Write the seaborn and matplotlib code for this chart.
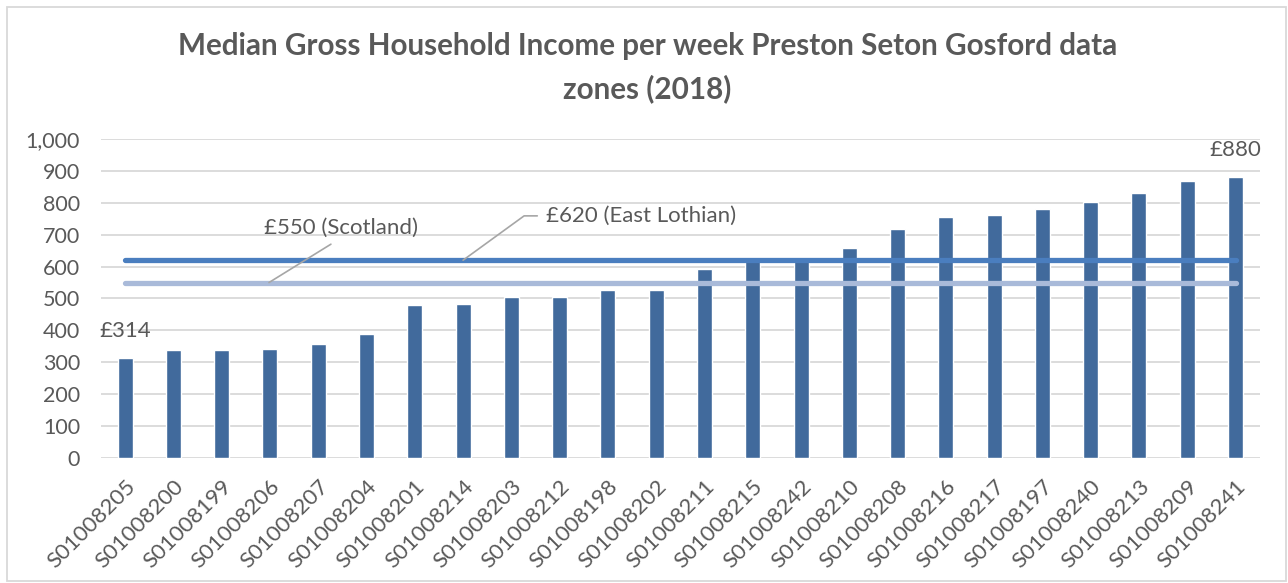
import matplotlib
matplotlib.use("Agg")
import matplotlib.pyplot as plt
import matplotlib.ticker as mticker
from matplotlib.patches import Rectangle
import seaborn as sns
import pandas as pd

zones = ["S01008205", "S01008200", "S01008199", "S01008206", "S01008207", "S01008204",
         "S01008201", "S01008214", "S01008203", "S01008212", "S01008198", "S01008202",
         "S01008211", "S01008215", "S01008242", "S01008210", "S01008208", "S01008216",
         "S01008217", "S01008197", "S01008240", "S01008213", "S01008209", "S01008241"]
income = [314, 337, 339, 342, 356, 390, 480, 482, 505, 505, 526, 528,
          593, 618, 622, 658, 719, 756, 761, 779, 803, 831, 869, 880]
scotland = 550
east_lothian = 620
title = "Median Gross Household Income per week Preston Seton Gosford data\nzones (2018)"

sns.set_theme(style="white")
plt.rcParams["font.family"] = ["Lato", "DejaVu Sans"]

GREY = "#595959"
BAR = "#416A9C"
EL = "#4A7EBF"
SC = "#A9BAD9"

df = pd.DataFrame({"zone": zones, "income": income})

fig = plt.figure(figsize=(12.88, 5.83), dpi=100)
ax = fig.add_axes([0.0784, 0.2144, 0.8996, 0.5472])

sns.barplot(data=df, x="zone", y="income", color=BAR, width=0.31, saturation=1,
            ax=ax, zorder=2)

n = len(zones)
ax.plot([0, n - 1], [east_lothian, east_lothian], color=EL, lw=3.8,
        solid_capstyle="round", zorder=3)
ax.plot([0, n - 1], [scotland, scotland], color=SC, lw=3.8,
        solid_capstyle="round", zorder=3)

ax.set_xlim(-0.5, n - 0.5)
ax.set_ylim(0, 1000)
ax.yaxis.set_major_locator(mticker.MultipleLocator(100))
ax.yaxis.set_major_formatter(mticker.FuncFormatter(lambda v, p: f"{int(v):,}"))
ax.grid(axis="y", color="#D9D9D9", lw=1.3, zorder=0)
ax.set_axisbelow(True)
for s in ax.spines.values():
    s.set_visible(False)
ax.set_xlabel("")
ax.set_ylabel("")
ax.tick_params(axis="y", length=0, pad=15, labelsize=15.5, labelcolor=GREY)
ax.tick_params(axis="x", length=0, pad=13, labelsize=16, labelcolor=GREY)
for lab in ax.get_xticklabels():
    lab.set_rotation(45)
    lab.set_ha("right")
    lab.set_va("top")
    lab.set_rotation_mode("anchor")

# end-value labels
ax.annotate(f"£{income[0]}", (0, income[0]), xytext=(0, 27), textcoords="offset pixels",
            ha="center", va="center", fontsize=16, color=GREY)
ax.annotate(f"£{income[-1]}", (n - 1, income[-1]), xytext=(0, 27), textcoords="offset pixels",
            ha="center", va="center", fontsize=16, color=GREY)

# reference line labels
ax.annotate(f"£{scotland} (Scotland)", xy=(2.98, scotland), xytext=(4.47, 721),
            ha="center", va="center", fontsize=16, color=GREY,
            arrowprops=dict(arrowstyle="-", color="#A6A6A6", lw=1.2,
                            relpos=(0.5, 0.0), shrinkA=4, shrinkB=0))
ax.annotate(f"£{east_lothian} (East Lothian)", xy=(7.0, east_lothian), xytext=(8.72, 759),
            ha="left", va="center", fontsize=16, color=GREY,
            arrowprops=dict(arrowstyle="-", color="#A6A6A6", lw=1.2,
                            connectionstyle="angle,angleA=0,angleB=36,rad=0",
                            relpos=(0.0, 0.5), shrinkA=4, shrinkB=0))

fig.text(0.5027, 0.884, title, ha="center", va="center", multialignment="center",
         fontsize=21.3, fontweight="bold", color=GREY, linespacing=1.59)

fig.patches.append(Rectangle((7 / 1288, 2 / 583), 1279 / 1288, 574 / 583,
                             transform=fig.transFigure, fill=False,
                             edgecolor="#D9D9D9", lw=1.3))

fig.savefig("out.png", dpi=100)
